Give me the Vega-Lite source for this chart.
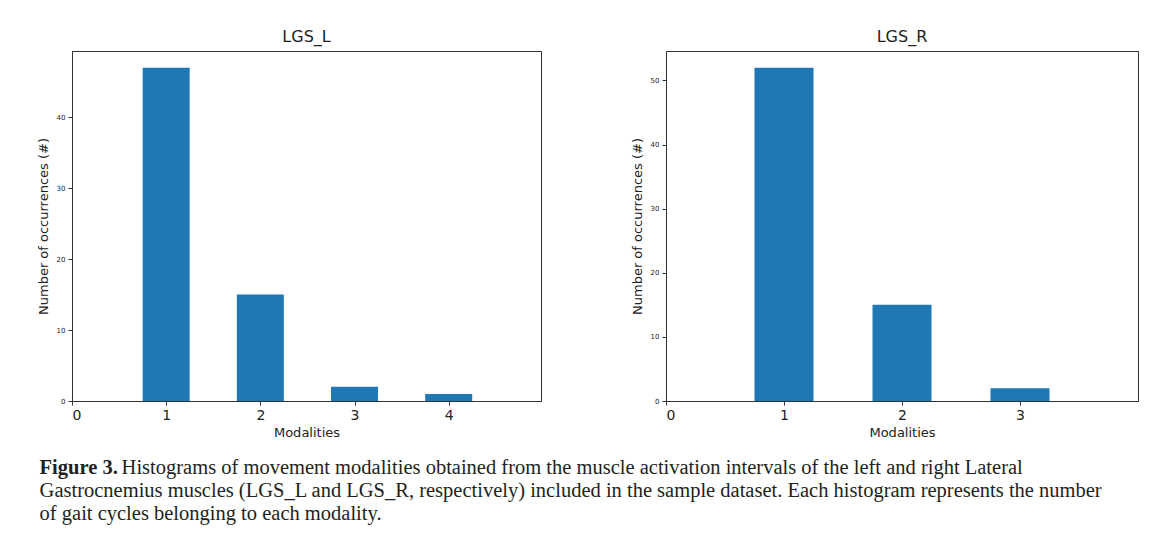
{
  "$schema": "https://vega.github.io/schema/vega-lite/v6.json",
  "padding": {"left": 36, "top": 28, "right": 4, "bottom": 4},
  "background": "white",
  "datasets": {
    "lgsl": [
      {"modality": 1, "count": 47},
      {"modality": 2, "count": 15},
      {"modality": 3, "count": 2},
      {"modality": 4, "count": 1}
    ],
    "lgsr": [
      {"modality": 1, "count": 52},
      {"modality": 2, "count": 15},
      {"modality": 3, "count": 2}
    ]
  },
  "title": {
    "text": "Figure 3.",
    "subtitle": [
      "\u200b\u2003\u2003\u2003\u2003Histograms of movement modalities obtained from the muscle activation intervals of the left and right Lateral",
      "Gastrocnemius muscles (LGS_L and LGS_R, respectively) included in the sample dataset. Each histogram represents the number",
      "of gait cycles belonging to each modality."
    ],
    "orient": "bottom",
    "anchor": "start",
    "frame": "bounds",
    "font": "Liberation Serif",
    "fontSize": 20.5,
    "fontWeight": "bold",
    "color": "#231f20",
    "subtitleFont": "Liberation Serif",
    "subtitleFontSize": 20.5,
    "subtitleFontWeight": "normal",
    "subtitleColor": "#231f20",
    "subtitleLineHeight": 23,
    "subtitlePadding": -20.5,
    "offset": 18.5,
    "dx": 3
  },
  "spacing": 88,
  "hconcat": [
    {
      "data": {"name": "lgsl"},
      "width": 469,
      "height": 350,
      "title": {"text": "LGS_L"},
      "mark": {"type": "bar", "width": 47, "color": "#1f77b4"},
      "encoding": {
        "x": {
          "field": "modality",
          "type": "quantitative",
          "scale": {"domain": [0, 4.98], "nice": false, "zero": false, "padding": 0},
          "axis": {"values": [0, 1, 2, 3, 4], "title": "Modalities", "format": "d"}
        },
        "y": {
          "field": "count",
          "type": "quantitative",
          "scale": {"domain": [0, 49.35], "nice": false, "padding": 0},
          "axis": {"values": [0, 10, 20, 30, 40], "title": "Number of occurrences (#)"}
        }
      }
    },
    {
      "data": {"name": "lgsr"},
      "width": 472,
      "height": 350,
      "title": {"text": "LGS_R"},
      "mark": {"type": "bar", "width": 59, "color": "#1f77b4"},
      "encoding": {
        "x": {
          "field": "modality",
          "type": "quantitative",
          "scale": {"domain": [0, 4], "nice": false, "zero": false, "padding": 0},
          "axis": {"values": [0, 1, 2, 3], "title": "Modalities", "format": "d"}
        },
        "y": {
          "field": "count",
          "type": "quantitative",
          "scale": {"domain": [0, 54.6], "nice": false, "padding": 0},
          "axis": {"values": [0, 10, 20, 30, 40, 50], "title": "Number of occurrences (#)"}
        }
      }
    }
  ],
  "config": {
    "font": "DejaVu Sans",
    "view": {"stroke": "#333333", "strokeWidth": 1},
    "title": {"font": "DejaVu Sans", "fontSize": 16, "fontWeight": "normal", "color": "#222222", "offset": 6},
    "axis": {
      "grid": false,
      "domainColor": "#333333",
      "tickColor": "#333333",
      "tickSize": 4,
      "labelColor": "#222222",
      "titleColor": "#222222",
      "titleFont": "DejaVu Sans",
      "labelFont": "DejaVu Sans",
      "titleFontWeight": "normal",
      "titleFontSize": 13
    },
    "axisX": {"labelFontSize": 14, "labelPadding": 3, "titlePadding": 4},
    "axisY": {"labelFontSize": 7, "labelPadding": 3, "titlePadding": 6}
  }
}
